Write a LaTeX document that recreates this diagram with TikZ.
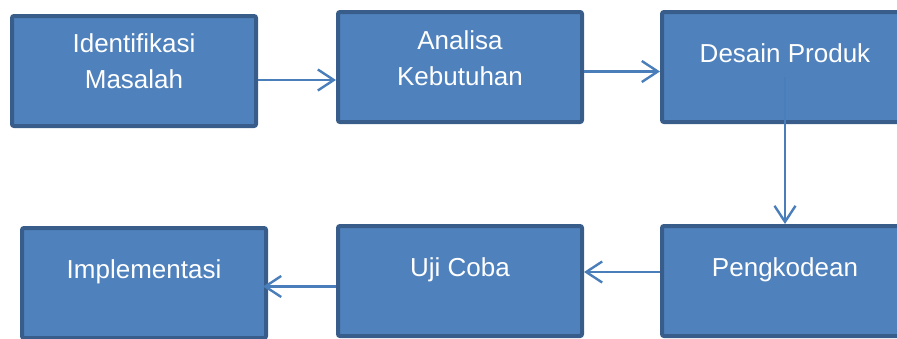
\documentclass[tikz,border=0pt]{standalone}
\usepackage{fontspec}
\setmainfont{Liberation Sans}
\usetikzlibrary{arrows.meta,calc}
\definecolor{boxfill}{HTML}{4F81BD}
\definecolor{boxedge}{HTML}{385D8A}
\definecolor{arrowcol}{HTML}{4A7EBB}
\begin{document}
\begin{tikzpicture}[x=1pt,y=1pt,
  stagebox/.style={draw=boxedge, fill=boxfill, line width=4pt, rounded corners=2pt,
    minimum width=244pt, minimum height=110pt, inner sep=0pt},
  stagetext/.style={text=white, font=\fontsize{26}{35.5}\selectfont, align=center, anchor=base, inner sep=0pt},
  arr/.style={draw=arrowcol, line width=2.4pt, -{Straight Barb[length=16pt,width=21pt,line width=2.4pt]}}]
\useasboundingbox (0,0) rectangle (897,-338);
\clip (0,0) rectangle (897,-338);
% boxes
\node[stagebox] (b1) at (134,-71) {};
\node[stagebox] (b2) at (460,-67) {};
\node[stagebox, minimum width=246pt] (b3) at (785,-67) {};
\node[stagebox] (b4) at (144,-283) {};
\node[stagebox] (b5) at (460,-281) {};
\node[stagebox, minimum width=246pt] (b6) at (785,-281) {};
% texts
\node[stagetext] (t1) at (134,-88) {Identifikasi\\Masalah};
\node[stagetext] (t2) at (460,-85) {Analisa\\Kebutuhan};
\node[stagetext] (t3) at (785,-62) {Desain Produk};
\node[stagetext] (t4) at (144,-278) {Implementasi};
\node[stagetext] (t5) at (460,-276) {Uji Coba};
\node[stagetext] (t6) at (785,-276) {Pengkodean};
% connectors
\coordinate (a12) at ([yshift=-9pt]b1.east);
\draw[arr] (a12) -- (a12 -| b2.west);
\coordinate (a23) at ([yshift=-4.5pt]b2.east);
\draw[arr] (a23) -- (a23 -| b3.west);
\coordinate (a36) at ([yshift=-10pt]b3.center);
\draw[arr] (a36) -- (b6.north);
\coordinate (a65) at ([yshift=9pt]b6.west);
\draw[arr] (a65) -- (a65 -| b5.east);
\coordinate (a54) at ([yshift=-5.5pt]b5.west);
\draw[arr, shorten >=-5pt] (a54) -- (a54 -| b4.east);
\end{tikzpicture}
\end{document}
